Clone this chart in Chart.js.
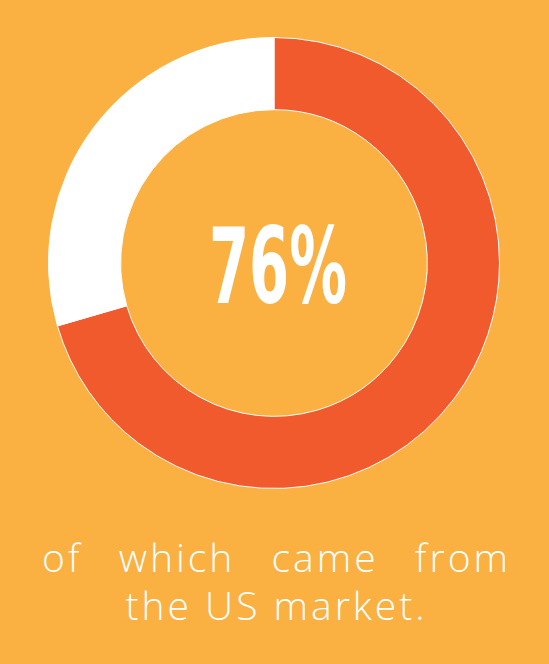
<!DOCTYPE html>
<html>
<head>
<meta charset="utf-8">
<script src="https://cdn.jsdelivr.net/npm/chart.js@4"></script>
<style>
  html, body { margin:0; padding:0; }
  body { width:549px; height:664px; background:#FBB042; position:relative; overflow:hidden; font-family:"Open Sans", sans-serif; }
  #wrap { position:absolute; left:48px; top:36.5px; width:452px; height:452px; }
  .line { position:absolute; color:#fff; font-family:"Open Sans", sans-serif; font-weight:300; font-size:39px; line-height:48px; white-space:nowrap; letter-spacing:3px; }
  #l1 { left:42px; width:469px; top:533px; display:flex; justify-content:space-between; }
  #l2 { left:2px; width:549px; top:581px; text-align:center; }
</style>
</head>
<body>
<div id="wrap"><canvas id="c"></canvas></div>
<div class="line" id="l1"><span>of</span><span>which</span><span>came</span><span>from</span></div>
<div class="line" id="l2">the US market.</div>
<script>
const categories = ["US market", "Other"];
const shareValues = [70.5, 29.5];
const centerLabel = "76%";
const sliceColors = ["#F15A2C", "#FFFFFF"];

const centerText = {
  id: 'centerText',
  afterDraw(chart) {
    const ctx = chart.ctx;
    const meta = chart.getDatasetMeta(0).data[0];
    const cx = meta.x, cy = meta.y;
    ctx.save();
    ctx.font = 'bold 105px "Liberation Sans Narrow", "DejaVu Sans Condensed", sans-serif';
    const w = ctx.measureText(centerLabel).width;
    const targetW = 138;
    ctx.translate(cx + 4, cy + 40);
    ctx.scale(targetW / w, 1);
    ctx.fillStyle = '#fff';
    ctx.textAlign = 'center';
    ctx.textBaseline = 'alphabetic';
    ctx.fillText(centerLabel, 0, 0);
    ctx.restore();
  }
};

new Chart(document.getElementById('c'), {
  type: 'doughnut',
  data: {
    labels: categories,
    datasets: [{
      data: shareValues,
      backgroundColor: sliceColors,
      borderColor: '#FFFFFF',
      borderWidth: 1,
      hoverOffset: 0
    }]
  },
  options: {
    responsive: true,
    maintainAspectRatio: false,
    animation: false,
    cutout: '68%',
    layout: { padding: 0 },
    plugins: { legend: { display: false }, tooltip: { enabled: false } }
  },
  plugins: [centerText]
});
</script>
</body>
</html>
